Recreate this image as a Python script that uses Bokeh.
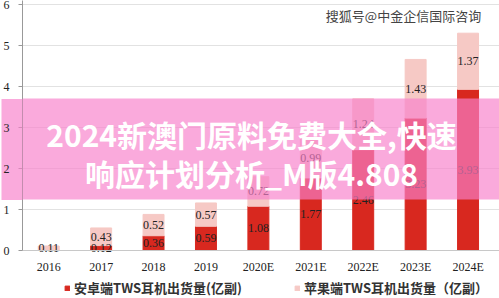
from bokeh.plotting import figure
from bokeh.models import (Range1d, Legend, LegendItem, Label, BoxAnnotation,
                          FixedTicker, ColumnDataSource)
from bokeh.core.properties import value
from bokeh.embed import file_html
from bokeh.resources import INLINE

years = ["2016", "2017", "2018", "2019", "2020E", "2021E", "2022E", "2023E", "2024E"]
android = [0.0, 0.12, 0.36, 0.59, 1.08, 1.77, 2.46, 3.23, 3.93]
apple = [0.11, 0.43, 0.52, 0.57, 0.72, 0.99, 1.24, 1.43, 1.37]
y_ticks = [0, 1, 2, 3, 4, 5, 6]
legend_labels = ["安卓端TWS耳机出货量(亿副)", "苹果端TWS耳机出货量（亿副）"]
watermark = "搜狐号@中金企信国际咨询"
banner_lines = ["2024新澳门原料免费大全,快速", "响应计划分析_M版4.808"]

RED = "#d8281f"
PINK = "#f6c9c5"
BANNER = "#f880cb"
BANNER_ALPHA = 0.67

xs = list(range(len(years)))
top_total = [a + b for a, b in zip(android, apple)]
src = ColumnDataSource(dict(x=xs, android=android, apple=apple, total=top_total))

# frame covers the whole height; the value axis starts at 0 (250 px from top)
p = figure(width=499, height=298, output_backend="svg", toolbar_location=None,
           x_range=Range1d(-0.5, 8.6), y_range=Range1d(-48 / 41, 250 / 41),
           min_border_left=21, min_border_right=0, min_border_top=0,
           min_border_bottom=0)
p.outline_line_color = None

r1 = p.vbar(x="x", top="android", bottom=0, width=0.40, color=RED, source=src)
r2 = p.vbar(x="x", top="total", bottom="android", width=0.40, color=PINK, source=src)

# value labels
a_idx = [i for i in xs if android[i] > 0]
p.text(x=[xs[i] for i in a_idx], y=[android[i] / 2 for i in a_idx],
       text=["%.2f" % android[i] for i in a_idx],
       text_font=value("Liberation Serif"), text_font_size="12px",
       text_color="#222222", text_align="center", text_baseline="middle")
p.text(x=xs, y=[a + b / 2 for a, b in zip(android, apple)],
       text=["%.2f" % v for v in apple],
       text_font=value("Liberation Serif"), text_font_size="12px",
       text_color="#222222", text_align="center", text_baseline="middle")

# category axis sits at value 0
p.xaxis.fixed_location = 0
p.xaxis.ticker = FixedTicker(ticks=xs)
p.xaxis.major_label_overrides = {i: y for i, y in zip(xs, years)}
p.xaxis.major_tick_out = 0
p.xaxis.major_tick_in = 0
p.xaxis.minor_tick_out = 0
p.xaxis.major_tick_line_color = None
p.xaxis.minor_tick_line_color = None
p.xaxis.axis_line_color = "#c8c8c8"
p.xaxis.major_label_text_font = "Liberation Serif"
p.xaxis.major_label_text_font_size = "12px"
p.xaxis.major_label_text_color = "#222222"
p.xaxis.major_label_standoff = 9

# banner band on the axis side (same overlay as the frame box)
band_lo, band_hi = 1.244, 3.707
p.yaxis.bounds = (0, 250 / 41)
p.yaxis.ticker = FixedTicker(ticks=y_ticks, minor_ticks=[(band_lo + band_hi) / 2])
p.yaxis.minor_tick_in = 0
p.yaxis.minor_tick_out = 21
p.yaxis.minor_tick_line_width = 101
p.yaxis.minor_tick_line_color = BANNER
p.yaxis.minor_tick_line_alpha = BANNER_ALPHA
p.yaxis.major_tick_in = 0
p.yaxis.major_tick_out = 4
p.yaxis.major_tick_line_color = "#999999"
p.yaxis.axis_line_color = "#999999"
p.yaxis.major_label_text_font = "Liberation Serif"
p.yaxis.major_label_text_font_size = "12px"
p.yaxis.major_label_text_color = "#222222"
p.yaxis.major_label_standoff = -8

p.xgrid.grid_line_color = None
p.ygrid.grid_line_color = "#e2e2e2"
p.ygrid.ticker = FixedTicker(ticks=y_ticks)

legend = Legend(items=[LegendItem(label=legend_labels[0], renderers=[r1]),
                       LegendItem(label=legend_labels[1], renderers=[r2])],
                orientation="horizontal", location=(42, 1),
                glyph_width=6, glyph_height=6, label_standoff=4, spacing=52,
                padding=0, margin=0, label_height=14, border_line_color=None,
                background_fill_alpha=0,
                label_text_font="Noto Sans CJK SC", label_text_font_size="13px",
                label_text_font_style="bold", label_text_color="#333333")
p.add_layout(legend, "center")

# watermark
p.add_layout(Label(x=381, y=298 - 15, x_units="screen", y_units="screen",
                   text=watermark, text_font="Noto Sans CJK SC",
                   text_font_size="13px", text_color="#444444",
                   text_align="center", text_baseline="middle"))

# banner overlay
p.add_layout(BoxAnnotation(top=band_hi, bottom=band_lo,
                           fill_color=BANNER, fill_alpha=BANNER_ALPHA,
                           line_color=None, level="overlay"))
for txt, cy in zip(banner_lines, [133, 172]):
    p.add_layout(Label(x=229, y=298 - cy, x_units="screen", y_units="screen",
                       text=txt, text_font="Noto Sans CJK SC",
                       text_font_style="bold", text_font_size="30px",
                       text_color="white", text_align="center",
                       text_baseline="middle", level="overlay"))

open("out.html", "w").write(file_html(p, INLINE))
